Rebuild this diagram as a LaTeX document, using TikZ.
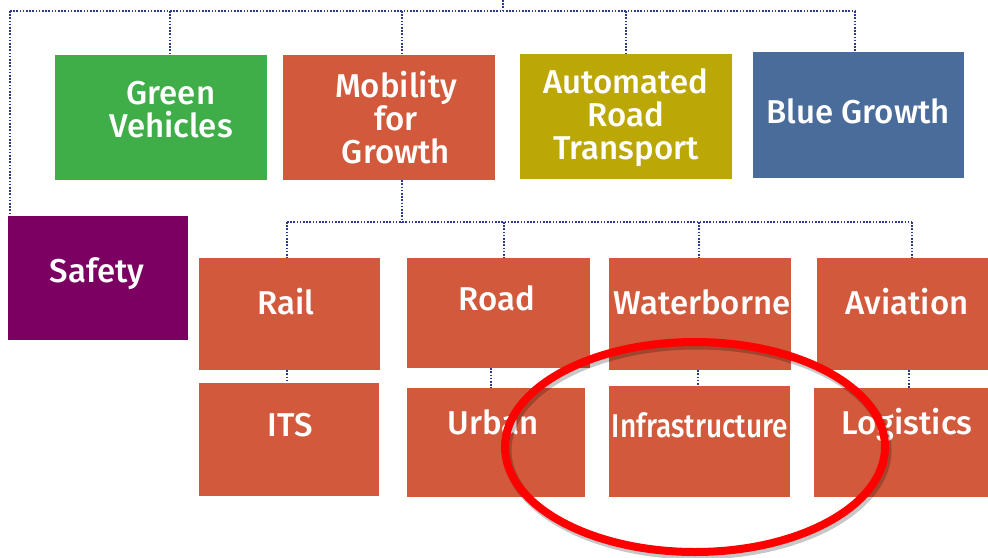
\documentclass[tikz,border=0pt]{standalone}
\usepackage{fontspec}
\setmainfont{Fira Sans}[UprightFont=* Medium]
\usepackage{graphicx}
\definecolor{cgreen}{HTML}{3FAE49}
\definecolor{corange}{HTML}{D2593B}
\definecolor{colive}{HTML}{BBA806}
\definecolor{cblue}{HTML}{4A6C9B}
\definecolor{cpurple}{HTML}{7B0061}
\definecolor{cdot}{HTML}{2B3A8C}
\tikzset{
  box/.style={rectangle, fill=#1, draw=none, inner sep=0pt},
  lbl/.style={text=white, align=center, inner sep=0pt, font=\fontsize{33}{33}\selectfont},
  dotline/.style={draw=cdot, line width=1.8pt, dash pattern=on 1.6pt off 1.6pt},
  ring/.style={draw=red, line width=8pt},
  ringshadow/.style={draw=black, opacity=0.22, line width=9pt}
}
\begin{document}
\begin{tikzpicture}[x=1pt,y=-1pt]
\useasboundingbox (0,0) rectangle (988,557);
\clip (0,0) rectangle (988,557);
\fill[white] (0,0) rectangle (988,557);
% boxes
\node[box=cgreen, minimum width=212pt, minimum height=125pt] (green) at (161,117.5) {};
\node[box=corange, minimum width=212pt, minimum height=125pt] (mob) at (389,117.5) {};
\node[box=colive, minimum width=212pt, minimum height=125pt] (auto) at (626,116.5) {};
\node[box=cblue, minimum width=211pt, minimum height=126pt] (blue) at (858.5,115) {};
\node[box=cpurple, minimum width=180pt, minimum height=124pt] (safety) at (98,278) {};
\node[box=corange, minimum width=181pt, minimum height=112pt] (rail) at (289.5,314) {};
\node[box=corange, minimum width=183pt, minimum height=110pt] (road) at (498.5,313) {};
\node[box=corange, minimum width=182pt, minimum height=112pt] (water) at (700,314) {};
\node[box=corange, minimum width=183pt, minimum height=112pt] (avia) at (908.5,314) {};
\node[box=corange, minimum width=180pt, minimum height=113pt] (its) at (289,439.5) {};
\node[box=corange, minimum width=178pt, minimum height=109pt] (urban) at (496,442.5) {};
\node[box=corange, minimum width=181pt, minimum height=111pt] (infra) at (699.5,441.5) {};
\node[box=corange, minimum width=186pt, minimum height=109pt] (logi) at (907,442.5) {};
% labels
\node[lbl] (tgreen) at (171,110) {Green\\Vehicles};
\node[lbl] (tmob) at (396,118) {Mobility\\for\\Growth};
\node[lbl] (tauto) at (626,118) {Automated\\Road\\Transport};
\node[lbl] (tblue) at (858,111) {Blue Growth};
\node[lbl] (tsafety) at (97,274) {Safety};
\node[lbl] (trail) at (286,302) {Rail};
\node[lbl] (troad) at (497,298) {Road};
\node[lbl] (twater) at (702,302) {Waterborne};
\node[lbl] (tavia) at (907,302) {Aviation};
\node[lbl] (tits) at (290,425) {ITS};
\node[lbl] (turban) at (493,422) {Urban};
\node[lbl] (tinfra) at (700,425) {\scalebox{0.85}[1]{Infrastructure}};
\node[lbl] (tlogi) at (907,425) {Logistics};
% connectors
\coordinate (hub) at (503,0);
\coordinate (jhub) at (503,11);
\coordinate (tl) at (10,11);
\coordinate (tr) at (855,11);
\coordinate (jg) at (170,11);
\coordinate (jm) at (402,11);
\coordinate (ja) at (626,11);
\coordinate (bl) at (287,222);
\coordinate (br) at (912,222);
\coordinate (jr) at (504,222);
\coordinate (jw) at (699,222);
\coordinate (v1) at (287,0);
\coordinate (v2) at (491,0);
\coordinate (v3) at (698,0);
\coordinate (v4) at (909,0);
\draw[dotline] (hub) -- (jhub);
\draw[dotline] (tl) -- (tr);
\draw[dotline] (tl) -- (tl |- safety.north);
\draw[dotline] (jg) -- (jg |- green.north);
\draw[dotline] (jm) -- (jm |- mob.north);
\draw[dotline] (ja) -- (ja |- auto.north);
\draw[dotline] (tr) -- (tr |- blue.north);
\draw[dotline] (mob.south -| jm) -- (jm |- bl);
\draw[dotline] (bl) -- (br);
\draw[dotline] (bl) -- (bl |- rail.north);
\draw[dotline] (jr) -- (jr |- road.north);
\draw[dotline] (jw) -- (jw |- water.north);
\draw[dotline] (br) -- (br |- avia.north);
\draw[dotline] (rail.south -| v1) -- (v1 |- its.north);
\draw[dotline] (road.south -| v2) -- (v2 |- urban.north);
\draw[dotline] (water.south -| v3) -- (v3 |- infra.north);
\draw[dotline] (avia.south -| v4) -- (v4 |- logi.north);
% red ring
\draw[ringshadow] (697,450) ellipse [x radius=190pt, y radius=105pt];
\draw[ring] (695,447) ellipse [x radius=190pt, y radius=105pt];
\end{tikzpicture}
\end{document}
